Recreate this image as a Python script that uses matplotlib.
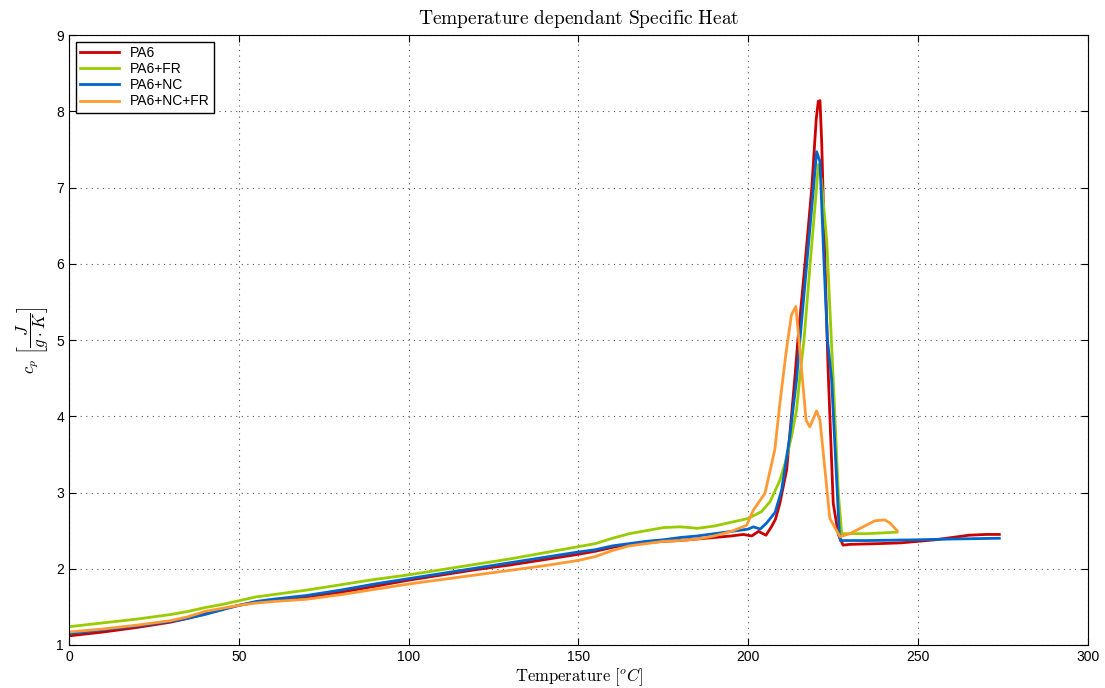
import matplotlib
matplotlib.use("Agg")
import matplotlib.pyplot as plt

# ===========================
# Data
# ===========================

pa6_x = [0, 10, 20, 30, 35, 40, 45, 50, 55, 60, 65, 70, 80, 90, 100, 110, 120, 130, 140,
         150, 155, 160, 165, 170, 175, 180, 185, 190, 195, 198.5, 201, 203, 205.2, 206.8,
         208, 209.3, 211.3, 213.7, 214.6, 216.7, 218.7, 220.0, 220.6, 221.1, 221.6, 222.7,
         223.5, 225, 226.5, 227.9, 230, 238.7, 245, 250, 255, 260, 265, 270, 273.9]
pa6_y = [1.12, 1.17, 1.23, 1.30, 1.35, 1.41, 1.47, 1.52, 1.56, 1.58, 1.60, 1.63, 1.69, 1.77,
         1.85, 1.92, 1.99, 2.05, 2.12, 2.19, 2.23, 2.28, 2.32, 2.34, 2.36, 2.37, 2.39, 2.41,
         2.43, 2.45, 2.43, 2.49, 2.44, 2.55, 2.65, 2.86, 3.30, 4.50, 5.00, 6.00, 7.00, 7.90,
         8.13, 8.14, 7.60, 5.80, 4.60, 2.86, 2.45, 2.31, 2.32, 2.33, 2.34, 2.36, 2.38, 2.41,
         2.44, 2.45, 2.45]

fr_x = [0, 10, 20, 30, 35, 40, 45, 50, 55, 60, 70, 80, 90, 100, 110, 120, 130, 140, 150,
        155, 160, 165, 170, 175, 180, 185, 190, 195, 200, 203.9, 206.4, 209.3, 210.8, 212.7,
        214.2, 215.4, 216.4, 218.2, 220.1, 220.6, 221.5, 222.5, 223.1, 225, 226.5, 227.5,
        235, 243.8]
fr_y = [1.24, 1.29, 1.34, 1.40, 1.44, 1.49, 1.53, 1.58, 1.63, 1.66, 1.72, 1.79, 1.86, 1.92,
        1.99, 2.06, 2.13, 2.21, 2.29, 2.33, 2.40, 2.46, 2.50, 2.54, 2.55, 2.53, 2.56, 2.61,
        2.66, 2.75, 2.88, 3.16, 3.38, 3.73, 4.08, 4.61, 5.00, 6.00, 7.00, 7.30, 7.10, 6.60,
        6.30, 4.48, 3.00, 2.46, 2.46, 2.48]

nc_x = [0, 10, 20, 30, 35, 40, 45, 50, 55, 60, 70, 80, 90, 100, 110, 120, 130, 140, 150,
        155, 160, 165, 170, 175, 180, 185, 190, 195, 200, 201.5, 203.5, 205.4, 207.9, 209.8,
        212.2, 214.2, 215.2, 217.2, 219.2, 220.1, 221.1, 222.3, 223.3, 224.5, 226.8, 227.1,
        235, 250, 260, 273.9]
nc_y = [1.15, 1.20, 1.25, 1.31, 1.35, 1.40, 1.46, 1.52, 1.57, 1.60, 1.65, 1.72, 1.80, 1.87,
        1.94, 2.01, 2.08, 2.15, 2.22, 2.25, 2.30, 2.33, 2.36, 2.38, 2.41, 2.43, 2.46, 2.49,
        2.52, 2.55, 2.52, 2.60, 2.74, 3.03, 3.73, 4.48, 5.00, 6.00, 7.00, 7.47, 7.34, 6.00,
        5.00, 4.50, 2.46, 2.37, 2.37, 2.38, 2.39, 2.40]

ncfr_x = [0, 10, 20, 30, 35, 40, 45, 50, 55, 60, 70, 80, 90, 100, 110, 120, 130, 140, 150,
          155, 160, 165, 170, 175, 180, 185, 190, 195, 199.5, 201.5, 204.9, 207.8, 209.3,
          210.5, 211.1, 212.7, 214.0, 215.7, 217.0, 218.1, 220.1, 221.1, 224.0, 227.0, 229.9,
          237.3, 240.2, 241.7, 243.8]
ncfr_y = [1.17, 1.21, 1.26, 1.32, 1.37, 1.44, 1.48, 1.52, 1.55, 1.57, 1.60, 1.66, 1.73, 1.80,
          1.86, 1.92, 1.98, 2.04, 2.11, 2.16, 2.24, 2.30, 2.33, 2.36, 2.37, 2.39, 2.43, 2.49,
          2.57, 2.77, 2.99, 3.56, 4.17, 4.61, 4.83, 5.33, 5.44, 4.61, 3.95, 3.86, 4.07, 3.95,
          2.66, 2.42, 2.46, 2.63, 2.64, 2.60, 2.50]

series = [
    ("PA6", pa6_x, pa6_y, "#CC0000"),
    ("PA6+FR", fr_x, fr_y, "#99CC00"),
    ("PA6+NC", nc_x, nc_y, "#0066CC"),
    ("PA6+NC+FR", ncfr_x, ncfr_y, "#FF9933"),
]

# ===========================
# Plot
# ===========================

plt.rcParams["font.family"] = ["Liberation Sans", "DejaVu Sans"]
plt.rcParams["mathtext.fontset"] = "cm"

fig = plt.figure(figsize=(11.05, 6.88), dpi=100)
ax = fig.add_axes([0.0624, 0.0625, 0.9222, 0.8866])

for name, xs, ys, color in series:
    ax.plot(xs, ys, color=color, linewidth=2.0, label=name)

ax.set_xlim(0, 300)
ax.set_ylim(1, 9)
ax.set_xticks(range(0, 301, 50))
ax.set_yticks(range(1, 10))
ax.tick_params(direction="in", top=True, right=True, labelsize=10, length=5)
ax.grid(True, linestyle=(0, (1, 4)), color="#555555", linewidth=0.8)

ax.set_title(r"$\mathrm{Temperature\ dependant\ Specific\ Heat}$", fontsize=14, pad=8)
ax.set_xlabel(r"$\mathrm{Temperature}\ [^oC]$", fontsize=12, labelpad=2)
ax.set_ylabel(r"$c_p\ \left[\dfrac{J}{g\cdot K}\right]$", fontsize=12, labelpad=4)

leg = ax.legend(loc="upper left", fontsize=10, fancybox=False, edgecolor="black",
                framealpha=1, borderaxespad=0.5, handlelength=2.8, labelspacing=0.15,
                borderpad=0.3)
leg.get_frame().set_linewidth(1.0)

plt.savefig("out.png", dpi=100)
plt.close()
